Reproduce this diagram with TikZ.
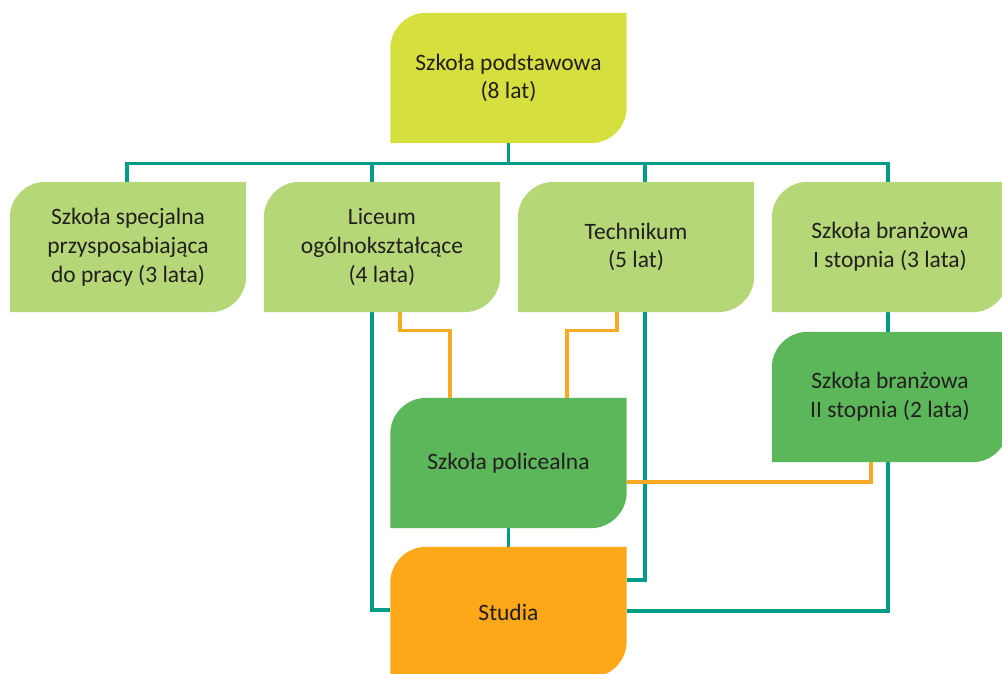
\documentclass[tikz,border=0pt]{standalone}
\usepackage{fontspec}
\setmainfont{Carlito}
\usetikzlibrary{calc}
\pgfdeclarelayer{lines}
\pgfdeclarelayer{fills}
\pgfsetlayers{lines,fills,main}
\definecolor{cTop}{RGB}{213,224,62}
\definecolor{cLight}{RGB}{181,215,119}
\definecolor{cDark}{RGB}{91,183,90}
\definecolor{cOrange}{RGB}{252,168,24}
\definecolor{cTeal}{RGB}{0,156,135}
\definecolor{cLineO}{RGB}{249,170,36}
\definecolor{cText}{RGB}{35,31,32}
\newcommand\leaffill[2]{%
  \begin{pgfonlayer}{fills}
  \fill[#2] (#1.south west) -- ([yshift=-36pt]#1.north west)
    arc[start angle=180,end angle=90,radius=36pt] -- (#1.north east)
    -- ([yshift=36pt]#1.south east)
    arc[start angle=0,end angle=-90,radius=36pt] -- cycle;
  \end{pgfonlayer}}
\tikzset{
  box/.style={rectangle, minimum width=236pt, minimum height=130pt, inner sep=0pt,
    align=center, text=cText, font=\fontsize{23.5}{28.8}\selectfont},
  tline/.style={draw=cTeal, line width=3.2pt},
  oline/.style={draw=cLineO, line width=3.2pt}
}
\begin{document}
\begin{tikzpicture}[x=1pt,y=1pt]
\useasboundingbox (0,0) rectangle (1002,673);
\node[box] (top) at (508.5,595) {Szkoła podstawowa\\(8 lat)};
\node[box] (r2a) at (128,426) {Szkoła specjalna\\przysposabiająca\\do pracy (3 lata)};
\node[box] (r2b) at (382,426) {Liceum\\ogólnokształcące\\(4 lata)};
\node[box] (r2c) at (636,426) {Technikum\\(5 lat)};
\node[box] (r2d) at (890,426) {Szkoła branżowa\\I stopnia (3 lata)};
\node[box] (br2) at (890,276) {Szkoła branżowa\\II stopnia (2 lata)};
\node[box] (pol) at (508.5,210) {Szkoła policealna};
\node[box] (stu) at (508.5,61) {Studia};
\leaffill{top}{cTop}
\leaffill{r2a}{cLight}
\leaffill{r2b}{cLight}
\leaffill{r2c}{cLight}
\leaffill{r2d}{cLight}
\leaffill{br2}{cDark}
\leaffill{pol}{cDark}
\leaffill{stu}{cOrange}
\begin{pgfonlayer}{lines}
% teal tree
\draw[tline] (top.south) -- ++(0,-20) coordinate (bus);
\draw[tline] ([xshift=-1pt]r2a.north) |- (bus) -| ([xshift=-2pt]r2d.north);
\draw[tline] ([xshift=-10pt]r2b.north) -- ++(0,20);
\draw[tline] ([xshift=9pt]r2c.north) -- ++(0,20);
\draw[tline] ([xshift=-10pt]r2b.south) |- ([yshift=2pt]stu.west);
\draw[tline] ([xshift=9pt]r2c.south) |- ([yshift=32pt]stu.east);
\draw[tline] ([xshift=-2pt]r2d.south) |- ([yshift=1pt]stu.east);
\draw[tline] (pol) -- (stu);
% orange
\draw[oline] ([xshift=18pt]r2b.south) -- ++(0,-18) -| ([xshift=-58.5pt]pol.north);
\draw[oline] ([xshift=-19pt]r2c.south) -- ++(0,-18) -| ([xshift=58.5pt]pol.north);
\draw[oline] ([xshift=-19pt]br2.south) |- ([yshift=-19pt]pol.east);
\end{pgfonlayer}
\end{tikzpicture}
\end{document}
